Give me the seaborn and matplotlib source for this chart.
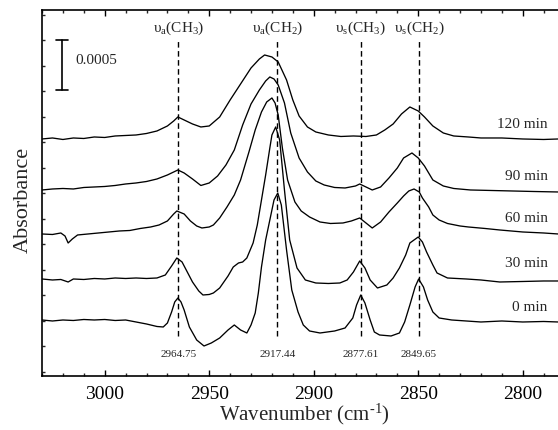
import numpy as np
import pandas as pd
import matplotlib
matplotlib.use("Agg")
import matplotlib.pyplot as plt
import seaborn as sns
from matplotlib.ticker import MultipleLocator

# spectra (wavenumber in cm-1, absorbance incl. stacking offset)
wn_120 = [3030, 3025, 3020, 3015, 3010, 3005, 3000, 2995, 2990, 2985, 2980, 2975, 2970,
          2967, 2965, 2962, 2958, 2954, 2950, 2945, 2940, 2935, 2930, 2926, 2923.5, 2920,
          2917, 2913, 2910, 2907, 2903, 2899, 2893, 2887, 2881, 2875, 2870, 2866, 2862,
          2858, 2854, 2850, 2847, 2843, 2838, 2833, 2826, 2820, 2810, 2800, 2790, 2783]
abs_120 = [0.00233, 0.00234, 0.002325, 0.00234, 0.002335, 0.00235, 0.002345, 0.00236,
           0.002365, 0.00237, 0.002385, 0.00241, 0.00246, 0.00251, 0.00255, 0.00252,
           0.00248, 0.00245, 0.00246, 0.00255, 0.00272, 0.00288, 0.00304, 0.00313,
           0.00317, 0.00315, 0.0031, 0.00292, 0.00272, 0.00256, 0.00245, 0.0024,
           0.00237, 0.002355, 0.00236, 0.002355, 0.00237, 0.00242, 0.00248, 0.00258,
           0.00265, 0.00261, 0.00255, 0.00246, 0.00239, 0.00236, 0.00235, 0.00234,
           0.00234, 0.00233, 0.002325, 0.00233]

wn_90 = [3030, 3025, 3020, 3015, 3010, 3005, 3000, 2995, 2990, 2985, 2980, 2975, 2970,
         2967, 2965, 2962, 2958, 2954, 2950, 2946, 2942, 2938, 2934, 2930, 2926, 2923,
         2921, 2919, 2917, 2914, 2911, 2907, 2903, 2899, 2895, 2890, 2885, 2880, 2878,
         2875, 2872, 2868, 2864, 2860, 2857, 2853, 2850, 2847, 2843, 2838, 2833, 2825,
         2815, 2805, 2795, 2783]
abs_90 = [0.00182, 0.00183, 0.001835, 0.00183, 0.001845, 0.00185, 0.001855, 0.001865,
          0.00188, 0.00189, 0.001905, 0.00193, 0.00197, 0.002, 0.00202, 0.00199, 0.00193,
          0.001865, 0.00189, 0.00196, 0.00207, 0.00222, 0.00247, 0.00268, 0.00282,
          0.00291, 0.00295, 0.00293, 0.00287, 0.00269, 0.00239, 0.00214, 0.002, 0.00191,
          0.00187, 0.001845, 0.00184, 0.00186, 0.00188, 0.00185, 0.00182, 0.00185,
          0.00194, 0.00204, 0.00214, 0.00219, 0.00214, 0.00206, 0.00192, 0.00186,
          0.001835, 0.00182, 0.001815, 0.00181, 0.001805, 0.0018]

wn_60 = [3030, 3025, 3021, 3019, 3017.5, 3015.5, 3013, 3008, 3003, 2998, 2993, 2988, 2983,
         2978, 2974, 2970, 2967, 2965.5, 2962, 2959, 2956, 2953.5, 2950, 2948, 2945,
         2941.5, 2938, 2935, 2931, 2928, 2925, 2922.5, 2920, 2918.5, 2917, 2915, 2912.5,
         2909, 2906, 2902, 2897, 2892, 2886, 2882, 2878, 2875, 2872, 2868, 2864, 2860,
         2857, 2854.5, 2852, 2849.5, 2848, 2845, 2843, 2840, 2836, 2830, 2826, 2818,
         2811, 2800, 2790, 2783]
abs_60 = [0.00138, 0.001375, 0.00139, 0.00136, 0.00129, 0.00133, 0.00137, 0.00138,
          0.00139, 0.0014, 0.00141, 0.001415, 0.001435, 0.00145, 0.00147, 0.00151,
          0.00158, 0.00161, 0.00158, 0.00151, 0.00146, 0.00144, 0.00145, 0.00147,
          0.00154, 0.00165, 0.00177, 0.00192, 0.0022, 0.00242, 0.0026, 0.0027, 0.00274,
          0.00269, 0.00257, 0.00224, 0.00192, 0.0017, 0.00161, 0.00155, 0.0015,
          0.001485, 0.00149, 0.00151, 0.00154, 0.00149, 0.00144, 0.0015, 0.0016,
          0.00169, 0.00176, 0.00181, 0.00183, 0.0018, 0.00174, 0.00165, 0.00157,
          0.00152, 0.001485, 0.00146, 0.00145, 0.001435, 0.00142, 0.0014, 0.00139,
          0.00138]

wn_30 = [3030, 3025, 3021, 3017.5, 3015, 3010, 3005, 3000, 2995, 2990, 2985, 2980, 2975,
         2971, 2968, 2965.5, 2963, 2961, 2958, 2955, 2953, 2950, 2948, 2945, 2941,
         2938.5, 2936, 2934, 2932, 2929, 2927, 2925, 2923, 2921, 2920, 2918.2, 2916.3,
         2914, 2911.5, 2908, 2904, 2899, 2893, 2887.5, 2884, 2881, 2878, 2875.5, 2873,
         2869.5, 2865, 2862, 2859, 2856, 2854, 2850, 2848, 2846, 2843, 2841, 2836, 2827,
         2820, 2811, 2800, 2790, 2783]
abs_30 = [0.00093, 0.00092, 0.000925, 0.0009, 0.00093, 0.000925, 0.000935, 0.00093,
          0.00094, 0.000935, 0.00094, 0.000935, 0.00094, 0.00097, 0.00106, 0.00114,
          0.0011, 0.00102, 0.0009, 0.00081, 0.00077, 0.000775, 0.00079, 0.00084,
          0.00096, 0.00105, 0.00109, 0.0011, 0.00114, 0.00129, 0.00147, 0.00172,
          0.00197, 0.00224, 0.00237, 0.00245, 0.00232, 0.00182, 0.00132, 0.00104,
          0.00092, 0.00089, 0.000885, 0.00089, 0.00092, 0.001, 0.00111, 0.00104,
          0.00092, 0.00084, 0.00087, 0.00094, 0.00104, 0.00117, 0.00129, 0.00135,
          0.0013, 0.0012, 0.00107, 0.00099, 0.00094, 0.00093, 0.00092, 0.0009,
          0.000905, 0.00091, 0.00091]

wn_0 = [3030, 3025, 3020, 3015, 3010, 3005, 3000, 2995, 2990, 2985, 2980, 2975, 2972,
        2970, 2968, 2966.5, 2965, 2963.5, 2962, 2959.5, 2956, 2952.5, 2949, 2945, 2941,
        2938, 2935, 2932, 2930, 2928, 2926.5, 2925, 2923, 2921, 2919, 2917.2, 2915.5,
        2913, 2910.5, 2907.5, 2905, 2902, 2897, 2890, 2885, 2881.3, 2879.5, 2877.5,
        2875.5, 2873, 2871, 2868.5, 2863, 2859, 2856.5, 2854, 2851.5, 2849.8, 2847.5,
        2845.5, 2843, 2840, 2834, 2820, 2810, 2800, 2790, 2783]
abs_0 = [0.00052, 0.00051, 0.00052, 0.000515, 0.000525, 0.00052, 0.000525, 0.000515,
         0.00052, 0.0005, 0.00048, 0.000455, 0.00045, 0.00049, 0.0006, 0.0007, 0.00074,
         0.0007, 0.00062, 0.00045, 0.00032, 0.00026, 0.00029, 0.00034, 0.00042,
         0.00047, 0.00042, 0.00039, 0.00047, 0.00059, 0.00079, 0.00105, 0.00132,
         0.00152, 0.00172, 0.00179, 0.00167, 0.00122, 0.00082, 0.0006, 0.00047,
         0.00041, 0.00039, 0.00041, 0.00044, 0.00054, 0.00067, 0.00077, 0.00069,
         0.00052, 0.0004, 0.00037, 0.00036, 0.00039, 0.0005, 0.00067, 0.00085,
         0.00093, 0.00085, 0.00072, 0.0006, 0.00054, 0.00052, 0.0005, 0.00051, 0.0005,
         0.000505, 0.0005]

time_labels = ["120 min", "90 min", "60 min", "30 min", "0 min"]
label_abs = [0.00247, 0.00195, 0.00153, 0.00108, 0.00064]

band_pos = [2964.75, 2917.44, 2877.61, 2849.65]
band_names = [r"υ$_\mathregular{a}$(CH$_\mathregular{3}$)",
              r"υ$_\mathregular{a}$(CH$_\mathregular{2}$)",
              r"υ$_\mathregular{s}$(CH$_\mathregular{3}$)",
              r"υ$_\mathregular{s}$(CH$_\mathregular{2}$)"]

sns.set_theme(style="ticks")
plt.rcParams["font.family"] = ["Liberation Serif", "DejaVu Serif"]
plt.rcParams["mathtext.fontset"] = "custom"
plt.rcParams["mathtext.rm"] = "Liberation Serif"
plt.rcParams["mathtext.it"] = "Liberation Serif:italic"

frames = []
for name, w, a in zip(time_labels,
                      [wn_120, wn_90, wn_60, wn_30, wn_0],
                      [abs_120, abs_90, abs_60, abs_30, abs_0]):
    frames.append(pd.DataFrame({"wn": w, "absorbance": a, "time": name}))
df = pd.concat(frames, ignore_index=True)

fig = plt.figure(figsize=(5.58, 4.30), dpi=100)
ax = fig.add_axes([0.0753, 0.1256, 0.9364, 0.8512])

sns.lineplot(data=df, x="wn", y="absorbance", hue="time", units="time",
             estimator=None, sort=True, palette=["black"] * 5, lw=0.95,
             legend=False, ax=ax)

ax.set_xlim(3030, 2780)
ax.set_ylim(-0.00004, 0.00362)

# band markers
ax.vlines(band_pos, 0.00036, 0.00332, colors="black", lw=1.0,
          linestyles=(0, (4, 2.5)))
for pos, name in zip(band_pos, band_names):
    ax.text(pos, 0.00344, name, ha="center", va="center", fontsize=11)
    ax.text(pos, 0.00017, f"{pos:.2f}", ha="center", va="center", fontsize=8)

for name, y in zip(time_labels, label_abs):
    ax.text(2788, y, name, ha="right", va="center", fontsize=11)

# scale bar
ax.plot([3020.6, 3020.6], [0.00282, 0.00332], color="black", lw=1.2)
ax.plot([3023.2, 3017.6], [0.00332, 0.00332], color="black", lw=1.2)
ax.plot([3023.2, 3017.6], [0.00282, 0.00282], color="black", lw=1.2)
ax.text(3013.9, 0.00311, "0.0005", ha="left", va="center", fontsize=11)

ax.xaxis.set_major_locator(MultipleLocator(50))
ax.xaxis.set_minor_locator(MultipleLocator(10))
ax.yaxis.set_major_locator(MultipleLocator(0.000255))
ax.tick_params(axis="x", which="major", direction="in", length=4.5, width=1,
               top=True, labelsize=14, pad=7, colors="black")
ax.tick_params(axis="x", which="minor", direction="in", length=2.5, width=1,
               top=True)
ax.tick_params(axis="y", which="major", direction="in", length=2.5, width=1,
               labelleft=False)
for side in ["left", "bottom", "top"]:
    ax.spines[side].set_linewidth(1.2)
    ax.spines[side].set_color("black")
ax.spines["right"].set_visible(False)

ax.set_xlabel(r"Wavenumber (cm$^{\mathregular{‐1}}$)", fontsize=15)
ax.set_ylabel("Absorbance", fontsize=16)
ax.xaxis.set_label_coords(0.503, -0.071)
ax.yaxis.set_label_coords(-0.017, 0.481)

fig.savefig("out.png", dpi=100)
